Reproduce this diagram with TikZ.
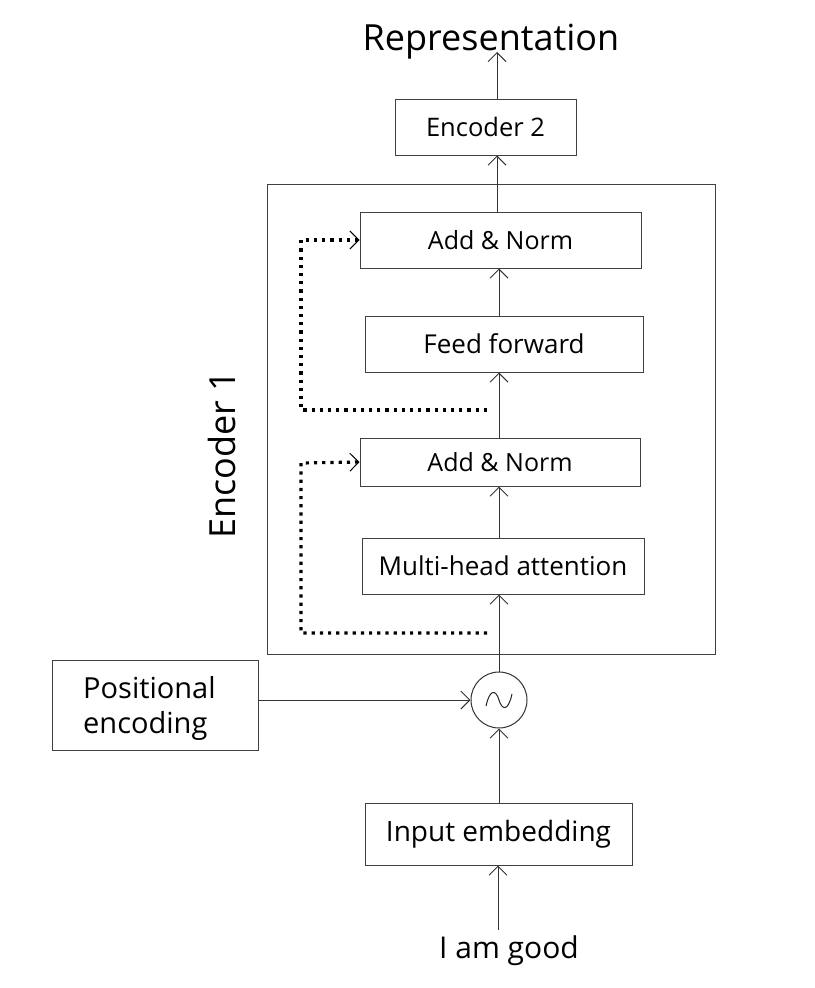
\documentclass[tikz,border=0pt]{standalone}
\usepackage{fontspec}
\setmainfont{Open Sans}
\usetikzlibrary{arrows.meta}
\begin{document}
\begin{tikzpicture}[x=1pt,y=-1pt,
  box/.style={draw=black!75,line width=1pt,rectangle,inner sep=0pt,font=\fontsize{26}{30}\selectfont},
  arr/.style={draw=black!80,line width=1pt,-{Straight Barb[length=9pt,width=18pt,line width=1pt]}},
  dotline/.style={line width=3.2pt,dash pattern=on 3.2pt off 5pt,black},
  dotarr/.style={dotline,-{Straight Barb[length=9pt,width=18pt,line width=1pt]}},
  lbl/.style={font=\fontsize{26}{30}\selectfont,inner sep=0pt}]
\useasboundingbox (0,0) rectangle (814,988);
\node[lbl,font=\fontsize{36}{40}\selectfont,anchor=base] (rep) at (491,50) {Representation};
\node[box,font=\fontsize{25.5}{29}\selectfont,minimum width=181pt,minimum height=56pt] (enc2) at (485.5,127) {Encoder 2};
\node[draw=black!75,line width=1pt,minimum width=448pt,minimum height=470pt,inner sep=0pt] (enc1) at (491,419) {};
\node[lbl,font=\fontsize{36}{40}\selectfont,rotate=90] (enc1lbl) at (222,455) {Encoder 1};
\node[box,font=\fontsize{25}{29}\selectfont,minimum width=281pt,minimum height=56pt] (an1) at (500.5,240) {Add \& Norm};
\node[box,minimum width=278pt,minimum height=56pt] (ff) at (504,344) {Feed forward};
\node[box,font=\fontsize{25}{29}\selectfont,minimum width=280pt,minimum height=48pt] (an2) at (500,462) {Add \& Norm};
\node[box,minimum width=282pt,minimum height=56pt] (mha) at (503,566) {Multi-head attention};
\node[draw=black!80,line width=1pt,circle,minimum size=56pt,inner sep=0pt] (sum) at (499,700) {};
\draw[black!85,line width=1pt] (486,706) .. controls (490,688) and (496,690) .. (499,700) .. controls (502,710) and (508,712) .. (512,694);
\node[draw=black!75,line width=1pt,minimum width=206pt,minimum height=90pt,inner sep=0pt] (pos) at (155,705) {};
\node[lbl,font=\fontsize{29}{35}\selectfont,align=left,anchor=west] (postxt) at (83,708) {Positional\\encoding};
\node[box,font=\fontsize{28}{32}\selectfont,minimum width=267pt,minimum height=62pt] (emb) at (498.5,834) {Input embedding};
\node[lbl,font=\fontsize{30}{34}\selectfont,anchor=base] (inp) at (509,958) {I am good};
\coordinate (inpTop) at (498,930);
% main connectors
\draw[arr] (inpTop) -- (emb.south -| inpTop);
\draw[arr] (emb.north -| sum) -- (sum.south);
\draw[arr] (pos.east |- sum) -- (sum.west);
\draw[arr] (sum.north) -- (mha.south -| sum);
\draw[arr] (mha.north -| sum) -- (an2.south -| sum);
\draw[arr] (an2.north -| sum) -- (ff.south -| sum);
\draw[arr] (ff.north -| sum) -- (an1.south -| sum);
\draw[arr] (an1.north -| 497,0) -- (enc2.south -| 497,0);
\draw[arr] (enc2.north -| 497,0) -- (497,52);
% residual dotted
\draw[dotarr] (487,633) -- (301,633) -- (301,463) -- (an2.west);
\draw[dotarr] (487,410) -- (301,410) -- (301,240) -- (an1.west);
\end{tikzpicture}
\end{document}
